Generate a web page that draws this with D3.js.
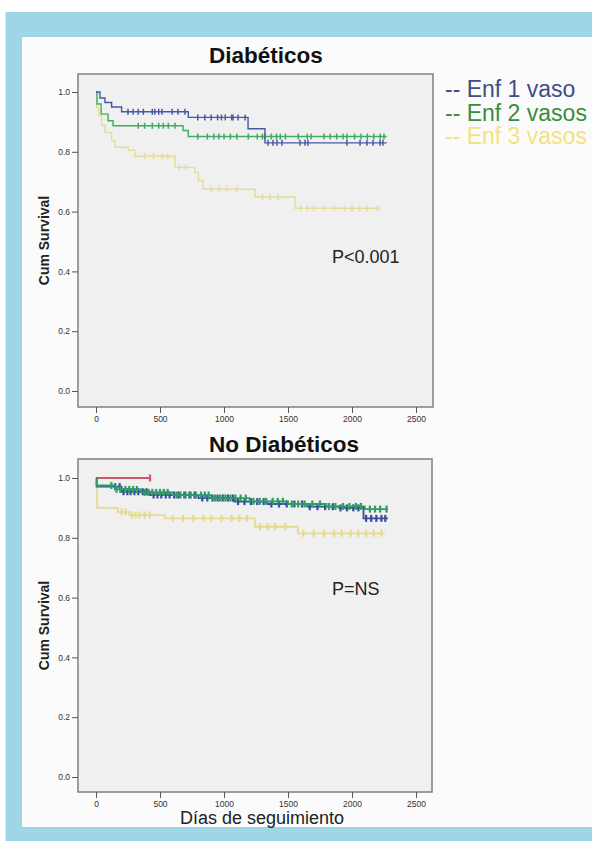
<!DOCTYPE html>
<html><head><meta charset="utf-8">
<script src="https://cdn.jsdelivr.net/npm/d3@7"></script>
<style>html,body{margin:0;padding:0;background:#fff;}svg{display:block;}</style>
</head><body>
<script>
// ---------- DATA ----------
const xTicks = [0, 500, 1000, 1500, 2000, 2500];
const yTicks = [0, 0.2, 0.4, 0.6, 0.8, 1.0];
const yTickLabels = ["0.0", "0.2", "0.4", "0.6", "0.8", "1.0"];
const legendLabels = ["-- Enf 1 vaso", "-- Enf 2 vasos", "-- Enf 3 vasos"];
const titles = ["Diabéticos", "No Diabéticos"];
const pTexts = ["P<0.001", "P=NS"];

// Diabéticos
const diabBlueT = [0, 31, 70, 122, 200, 721, 1188, 1320];
const diabBlueS = [1.0, 0.98, 0.965, 0.95, 0.934, 0.915, 0.877, 0.83];
const diabBlueEnd = 2271;
const diabBlueCens = [250, 290, 330, 370, 440, 460, 490, 515, 595, 640, 695, 795, 850, 900, 950, 980, 1010, 1060, 1070, 1110, 1165, 1344, 1383, 1414, 1453, 1594, 1633, 1656, 1960, 2063, 2117, 2164, 2219, 2242];
const diabGreenT = [0, 8, 40, 94, 133, 680, 721];
const diabGreenS = [1.0, 0.96, 0.926, 0.904, 0.887, 0.871, 0.851];
const diabGreenEnd = 2271;
const diabGreenCens = [330, 380, 440, 490, 525, 565, 617, 795, 870, 920, 960, 1000, 1050, 1100, 1190, 1260, 1300, 1320, 1370, 1410, 1440, 1480, 1580, 1650, 1680, 1780, 1830, 1880, 1930, 1960, 2020, 2070, 2120, 2170, 2220, 2250];
const diabYellowT = [0, 5, 20, 44, 70, 122, 148, 252, 305, 617, 773, 800, 836, 1242, 1555];
const diabYellowS = [1.0, 0.948, 0.92, 0.888, 0.865, 0.838, 0.815, 0.805, 0.785, 0.748, 0.731, 0.704, 0.675, 0.649, 0.611];
const diabYellowEnd = 2219;
const diabYellowCens = [380, 450, 520, 560, 650, 700, 900, 960, 1020, 1100, 1300, 1360, 1420, 1600, 1650, 1700, 1780, 1860, 1940, 2000, 2060, 2120, 2200];

// No Diabéticos
const nodRedT = [0];
const nodRedS = [1.0];
const nodRedEnd = 422;
const nodRedCens = [422];
const nodBlueT = [0, 5, 200, 420, 800, 1080, 1340, 1650, 1900, 2090];
const nodBlueS = [1.0, 0.971, 0.954, 0.943, 0.933, 0.921, 0.913, 0.904, 0.9, 0.865];
const nodBlueEnd = 2280;
const nodBlueCens = [150, 185, 215, 245, 270, 300, 330, 365, 395, 450, 480, 510, 545, 575, 610, 645, 690, 730, 770, 830, 870, 910, 950, 990, 1030, 1070, 1110, 1160, 1210, 1260, 1310, 1370, 1430, 1490, 1550, 1610, 1670, 1730, 1790, 1850, 1910, 1960, 2010, 2050, 2110, 2150, 2190, 2230, 2260];
const nodGreenT = [0, 5, 150, 350, 600, 900, 1200, 1500, 1800, 2100];
const nodGreenS = [1.0, 0.975, 0.962, 0.952, 0.943, 0.933, 0.922, 0.913, 0.905, 0.896];
const nodGreenEnd = 2280;
const nodGreenCens = [120, 160, 190, 230, 260, 290, 320, 380, 410, 440, 470, 500, 530, 560, 630, 660, 700, 740, 780, 820, 850, 880, 930, 970, 1010, 1050, 1090, 1130, 1170, 1230, 1280, 1330, 1380, 1420, 1460, 1530, 1580, 1630, 1690, 1750, 1820, 1870, 1930, 1980, 2030, 2070, 2140, 2180, 2220, 2270];
const nodYellowT = [0, 8, 170, 260, 539, 1242, 1578];
const nodYellowS = [1.0, 0.90, 0.887, 0.876, 0.865, 0.837, 0.815];
const nodYellowEnd = 2258;
const nodYellowCens = [200, 230, 280, 310, 340, 380, 420, 600, 680, 760, 840, 900, 980, 1060, 1120, 1180, 1280, 1340, 1400, 1480, 1620, 1700, 1780, 1860, 1920, 1990, 2050, 2110, 2170, 2230];

// ---------- STYLE / LAYOUT ----------
const W = 592, H = 841;
const FONT = "Arial, 'Liberation Sans', sans-serif";
const svg = d3.select("body").append("svg").attr("width", W).attr("height", H);

svg.append("rect").attr("x", 0).attr("y", 0).attr("width", W).attr("height", H).attr("fill", "#ffffff");
svg.append("rect").attr("x", 5.5).attr("y", 12).attr("width", W - 5.5).attr("height", H - 12).attr("fill", "#9dd6e6");
svg.append("rect").attr("x", 22).attr("y", 37).attr("width", W - 22).attr("height", 827 - 37).attr("fill", "#fbfbfb");

const panels = [
  { frame: [78, 74, 433, 407], yr: [391, 92], title: titles[0], p: pTexts[0], pY: 263, titleY: 63, pX: 332,
    lw: 1.4, cw: 1.5, ch: 3,
    series: [
      { t: diabYellowT, s: diabYellowS, end: diabYellowEnd, c: diabYellowCens, color: "#e3dc9c" },
      { t: diabGreenT, s: diabGreenS, end: diabGreenEnd, c: diabGreenCens, color: "#40ab60" },
      { t: diabBlueT, s: diabBlueS, end: diabBlueEnd, c: diabBlueCens, color: "#4858a8" }
    ] },
  { frame: [78, 459, 432, 792], yr: [777, 478], title: titles[1], p: pTexts[1], pY: 595, titleY: 452, pX: 332,
    lw: 1.8, cw: 2.2, ch: 3.5,
    series: [
      { t: nodYellowT, s: nodYellowS, end: nodYellowEnd, c: nodYellowCens, color: "#e6da90" },
      { t: nodRedT, s: nodRedS, end: nodRedEnd, c: nodRedCens, color: "#d4566f" },
      { t: nodBlueT, s: nodBlueS, end: nodBlueEnd, c: nodBlueCens, color: "#3a4c9e" },
      { t: nodGreenT, s: nodGreenS, end: nodGreenEnd, c: nodGreenCens, color: "#2e9e62" }
    ] }
];

panels.forEach(pn => {
  const [fx0, fy0, fx1, fy1] = pn.frame;
  const x = d3.scaleLinear().domain([0, 2500]).range([96, 416]);
  const y = d3.scaleLinear().domain([0, 1]).range(pn.yr);
  const g = svg.append("g");

  g.append("rect").attr("x", fx0).attr("y", fy0).attr("width", fx1 - fx0).attr("height", fy1 - fy0)
    .attr("fill", "#f0f0f0").attr("stroke", "#808080").attr("stroke-width", 1.5);

  const ya = d3.axisLeft(y).tickValues(yTicks).tickSize(6).tickPadding(2)
    .tickFormat((d, i) => yTickLabels[i]);
  const yg = g.append("g").attr("transform", `translate(${fx0},0)`).call(ya);
  yg.select(".domain").remove();
  yg.selectAll("line").attr("stroke", "#555").attr("stroke-width", 1);
  yg.selectAll("text").attr("font-family", FONT).attr("font-size", 8.5).attr("fill", "#333");

  const xa = d3.axisBottom(x).tickValues(xTicks).tickSize(6).tickPadding(3).tickFormat(d3.format("d"));
  const xg = g.append("g").attr("transform", `translate(0,${fy1})`).call(xa);
  xg.select(".domain").remove();
  xg.selectAll("line").attr("stroke", "#555").attr("stroke-width", 1);
  xg.selectAll("text").attr("font-family", FONT).attr("font-size", 8.5).attr("fill", "#333");

  g.append("text").attr("transform", `translate(49,${(fy0 + fy1) / 2}) rotate(-90)`)
    .attr("text-anchor", "middle").attr("font-family", FONT)
    .attr("font-weight", "bold").attr("font-size", 14).attr("fill", "#222").text("Cum Survival");

  g.append("text").attr("x", 209).attr("y", pn.titleY).attr("font-family", FONT)
    .attr("font-weight", "bold").attr("font-size", 22.5).attr("fill", "#111").text(pn.title);

  g.append("text").attr("x", pn.pX).attr("y", pn.pY).attr("font-family", FONT)
    .attr("font-size", 18).attr("fill", "#222").text(pn.p);

  const line = d3.line().x(d => x(d[0])).y(d => y(d[1])).curve(d3.curveStepAfter);
  pn.series.forEach(se => {
    const pts = se.t.map((t, i) => [t, se.s[i]]);
    pts.push([se.end, se.s[se.s.length - 1]]);
    g.append("path").attr("d", line(pts)).attr("fill", "none").attr("stroke", se.color).attr("stroke-width", pn.lw);
    const survAt = t => { let v = se.s[0]; se.t.forEach((tt, i) => { if (tt <= t) v = se.s[i]; }); return v; };
    g.selectAll(null).data(se.c).enter().append("line")
      .attr("x1", d => x(d)).attr("x2", d => x(d))
      .attr("y1", d => y(survAt(d)) - pn.ch).attr("y2", d => y(survAt(d)) + pn.ch)
      .attr("stroke", se.color).attr("stroke-width", pn.cw);
  });
});

svg.append("text").attr("x", 262).attr("y", 824).attr("text-anchor", "middle")
  .attr("font-family", FONT).attr("font-size", 18).attr("fill", "#222")
  .text("Días de seguimiento");

const legColors = ["#3e4c88", "#3a8c3e", "#f3e27e"];
svg.append("g").selectAll("text").data(legendLabels).enter().append("text")
  .attr("x", 445).attr("y", (d, i) => 97 + i * 23.5)
  .attr("font-family", FONT).attr("font-size", 23)
  .attr("fill", (d, i) => legColors[i]).text(d => d);
</script>
</body></html>
